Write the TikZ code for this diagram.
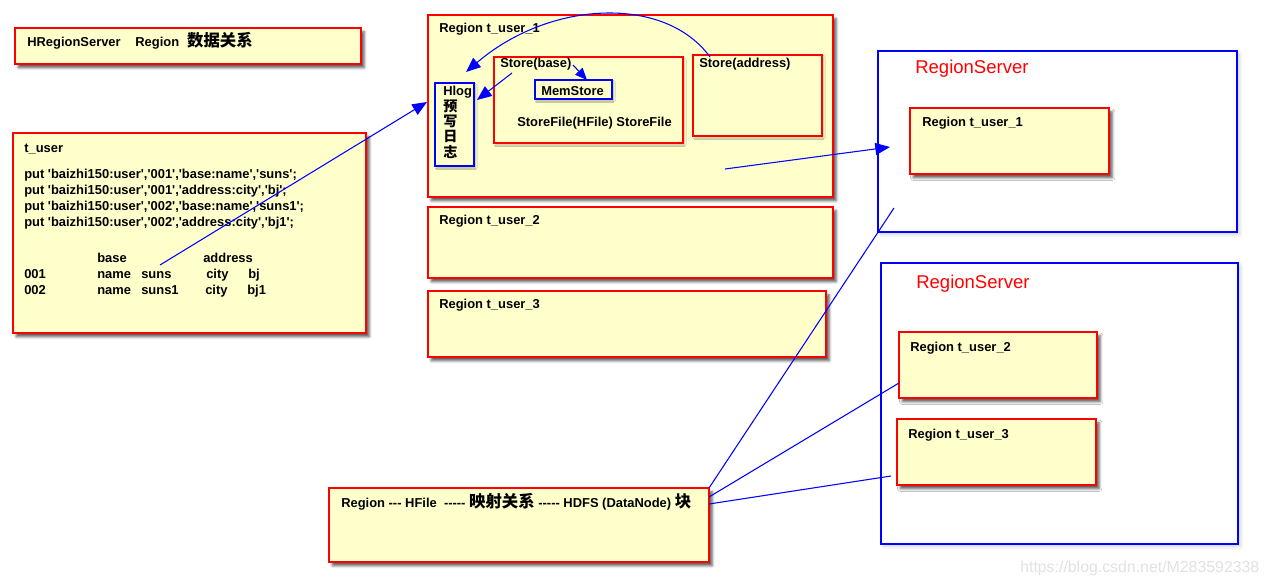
\documentclass[tikz,border=0pt]{standalone}
\usepackage{fontspec}
\setmainfont{Liberation Sans}
\newfontfamily\af{Liberation Sans}
\newfontfamily\cjk{Noto Sans CJK SC}
\usetikzlibrary{arrows.meta,shadows.blur,fit}
\definecolor{boxfill}{RGB}{255,255,204}
\definecolor{wm}{RGB}{225,225,225}
\newcommand\zh[1]{{\cjk\bfseries\fontsize{12.3}{13}\selectfont #1}}
\newcommand\zhs[1]{{\cjk\bfseries\fontsize{10.6}{11}\selectfont #1}}
\tikzset{
  yb/.style={draw=red, line width=1.2pt, fill=boxfill, inner sep=0pt,
    blur shadow={shadow xshift=2.4pt, shadow yshift=-2.8pt, shadow blur radius=2pt, shadow opacity=65}},
  ybs/.style={draw=red, line width=1.2pt, fill=boxfill, inner sep=0pt,
    blur shadow={shadow xshift=1.2pt, shadow yshift=-1.5pt, shadow blur radius=1.2pt, shadow opacity=25}},
  bb/.style={draw=blue, line width=1.1pt, fill=boxfill, inner sep=0pt,
    blur shadow={shadow xshift=1.2pt, shadow yshift=-1.5pt, shadow blur radius=1.2pt, shadow opacity=30}},
  rs/.style={draw=blue, line width=1.1pt, fill=white, inner sep=0pt,
    blur shadow={shadow xshift=2pt, shadow yshift=-2pt, shadow blur radius=2.5pt, shadow opacity=18}},
  lb/.style={anchor=base west, inner sep=0pt, font=\af\bfseries\fontsize{9.7}{11}\selectfont},
  cj/.style={anchor=base west, inner sep=0pt},
  rsl/.style={anchor=base west, inner sep=0pt, text=red, font=\af\fontsize{13.9}{15}\selectfont},
  conn/.style={draw=blue, line width=0.8pt},
  tip/.style={-{Triangle[length=11pt,width=9pt]}},
  smalltip/.style={-{Triangle[length=9pt,width=7.5pt]}},
}
\begin{document}
\begin{tikzpicture}[x=0.75pt,y=-0.75pt]
\useasboundingbox (0,0) rectangle (1267,585);

% title box
\node[yb, fit={(15,28) (361,64)}] (title) {};
\node[lb] (titlet) at (27,47) {HRegionServer\hspace{11pt}Region\hspace{6pt}\zh{数据关系}};

% t_user box
\node[yb, fit={(13,133) (366,333)}] (tuser) {};
\node[lb] (tu0) at (24,152) {t\_user};
\node[lb] (tu1) at (24,178) {put 'baizhi150:user','001','base:name','suns';};
\node[lb] (tu2) at (24,194) {put 'baizhi150:user','001','address:city','bj';};
\node[lb] (tu3) at (24,210) {put 'baizhi150:user','002','base:name','suns1';};
\node[lb] (tu4) at (24,226) {put 'baizhi150:user','002','address:city','bj1';};
\node[lb] (hbase) at (97,262) {base};
\node[lb] (haddr) at (203,262) {address};
\node[lb] (r1k) at (24,278) {001};
\node[lb] (r1n) at (97,278) {name};
\node[lb] (r1v) at (141,278) {suns};
\node[lb] (r1c) at (206,278) {city};
\node[lb] (r1b) at (248,278) {bj};
\node[lb] (r2k) at (24,294) {002};
\node[lb] (r2n) at (97,294) {name};
\node[lb] (r2v) at (141,294) {suns1};
\node[lb] (r2c) at (205,294) {city};
\node[lb] (r2b) at (247,294) {bj1};

% Region t_user_1 (left)
\node[yb, fit={(428,15) (833,197)}] (reg1) {};
\node[lb] (reg1t) at (439,33) {Region t\_user\_1};
\node[ybs, fit={(494,57) (683,143)}] (sbase) {};
\node[lb] (sbaset) at (500,68) {Store(base)};
\node[bb, fit={(535,80) (612,99)}] (mem) {};
\node[lb] (memt) at (541,95) {MemStore};
\node[lb] (sfile) at (517,127) {StoreFile(HFile) StoreFile};
\node[ybs, fit={(693,55) (822,136)}] (saddr) {};
\node[lb] (saddrt) at (699,68) {Store(address)};
\node[bb, fit={(435,83) (474,166)}] (hlog) {};
\node[lb] (hlogt) at (443,95) {Hlog};
\node[cj] (h1) at (443,111) {\zhs{预}};
\node[cj] (h2) at (443,126.5) {\zhs{写}};
\node[cj] (h3) at (443,142) {\zhs{日}};
\node[cj] (h4) at (443,157.5) {\zhs{志}};

% Region t_user_2, t_user_3 (left)
\node[yb, fit={(428,207) (833,278)}] (reg2) {};
\node[lb] (reg2t) at (439,224) {Region t\_user\_2};
\node[yb, fit={(428,291) (826,357)}] (reg3) {};
\node[lb] (reg3t) at (439,308) {Region t\_user\_3};

% RegionServer 1
\node[rs, fit={(878,51) (1237,232)}] (rs1) {};
\node[rsl] (rs1t) at (915,74) {RegionServer};
\node[yb, fit={(910,108) (1109,174)}] (rs1r) {};
\node[lb] (rs1rt) at (922,127) {Region t\_user\_1};

% RegionServer 2
\node[rs, fit={(881,263) (1238,544)}] (rs2) {};
\node[rsl] (rs2t) at (916,288) {RegionServer};
\node[yb, fit={(899,332) (1097,398)}] (rs2a) {};
\node[lb] (rs2at) at (910,351) {Region t\_user\_2};
\node[yb, fit={(897,419) (1096,485)}] (rs2b) {};
\node[lb] (rs2bt) at (908,438) {Region t\_user\_3};

% bottom box
\node[yb, fit={(329,488) (709,562)}] (map) {};
\node[lb] (mapt) at (341,507) {Region {-}{-}{-} HFile\ \ {-}{-}{-}{-}{-} \zh{映射关系} {-}{-}{-}{-}{-} HDFS (DataNode) \zh{块}};

% watermark
\node[anchor=base west, inner sep=0pt, text=wm, font=\af\fontsize{11.9}{13}\selectfont] (wmk) at (1020,572) {https://blog.csdn.net/M283592338};

% connectors
\coordinate (sunsP) at (160,265);
\coordinate (hlogIn) at (427,102);
\coordinate (addrTop) at (710,57);
\coordinate (hlogTop) at (466,72);
\coordinate (baseL) at (512,73);
\coordinate (hlogR) at (477,100);
\coordinate (baseR) at (573,65);
\coordinate (memTop) at (587,80);
\coordinate (reg1P) at (725,169);
\coordinate (rs1In) at (890,147);
\coordinate (mapA) at (709,488);
\coordinate (mapB) at (709,497);
\coordinate (mapC) at (709,504);
\coordinate (endA) at (894,208);
\coordinate (endB) at (899,383);
\coordinate (endC) at (891,476);

\draw[conn,tip] (sunsP) -- (hlogIn);
\draw[conn,tip] (addrTop) .. controls (665,-5) and (550,0) .. (hlogTop);
\draw[conn,tip] (baseL) -- (hlogR);
\draw[conn,smalltip] (baseR) -- (memTop);
\draw[conn,tip] (reg1P) -- (rs1In);
\draw[conn] (mapA) -- (endA);
\draw[conn] (mapB) -- (endB);
\draw[conn] (mapC) -- (endC);
\end{tikzpicture}
\end{document}
